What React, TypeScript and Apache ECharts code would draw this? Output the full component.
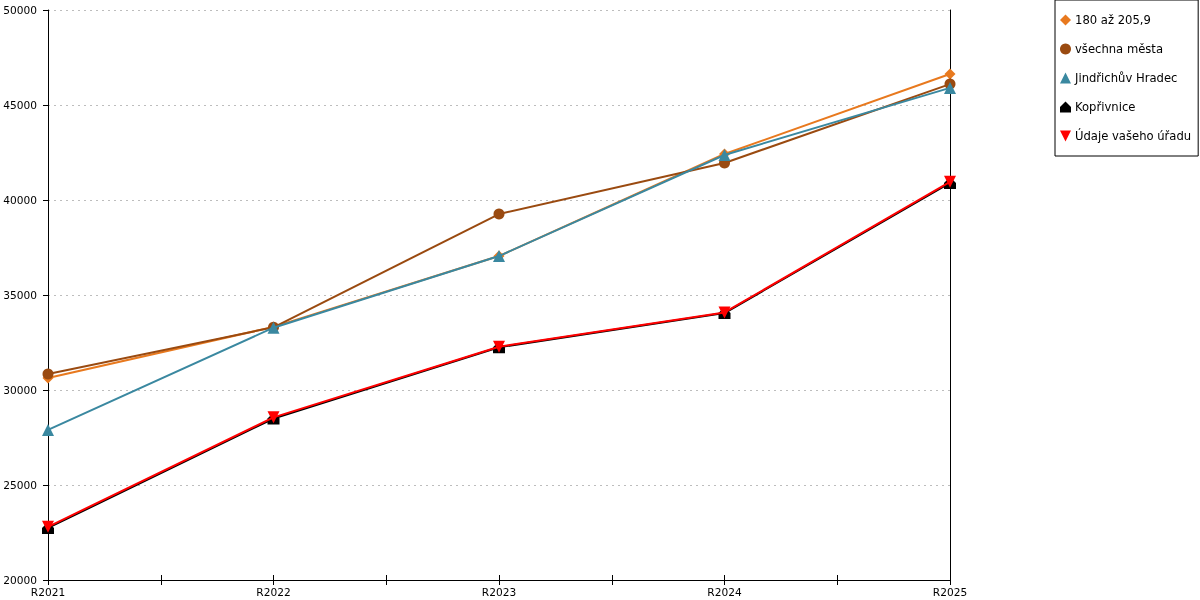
import React, { useEffect, useRef } from "react";
import * as echarts from "echarts";

const categories = ["R2021", "R2022", "R2023", "R2024", "R2025"];
const seriesNames = ["180 až 205,9", "všechna města", "Jindřichův Hradec", "Kopřivnice", "Údaje vašeho úřadu"];
const s180 = [30630, 33320, 37050, 42420, 46630];
const sAll = [30840, 33300, 39260, 41950, 46100];
const sJH = [27900, 33280, 37050, 42370, 45900];
const sKop = [22740, 28500, 32250, 34050, 40900];
const sUrad = [22800, 28560, 32280, 34080, 40960];
const yTicks = { min: 20000, max: 50000, interval: 5000 };

const colors = ["#E8791E", "#9A4A10", "#3A88A0", "#000000", "#FF0000"];
const symbols = [
  "diamond",
  "circle",
  "triangle",
  "path://M0,5 L5,0 L10,5 L10,10 L0,10 Z",
  "path://M0,0 L10,0 L5,10 Z",
];
const symbolSizes = [11, 11, 12, 12, 12];

const FONT = "DejaVu Sans";

export default function App() {
  const ref = useRef<HTMLDivElement>(null);
  useEffect(() => {
    if (!ref.current) return;
    const chart = echarts.init(ref.current, undefined, { renderer: "svg" });
    const all = [s180, sAll, sJH, sKop, sUrad];
    const order = [0, 1, 2, 3, 4];
    chart.setOption({
      animation: false,
      textStyle: { fontFamily: FONT },
      grid: { left: 48, right: 250, top: 10, bottom: 20 },
      legend: {
        orient: "vertical",
        left: 1055,
        top: 0,
        data: seriesNames.map((n, i) => ({ name: n, icon: symbols[i] })),
        itemWidth: 11,
        itemHeight: 11,
        itemGap: 17,
        padding: [14, 7, 14, 5],
        borderColor: "#000",
        borderWidth: 1,
        borderRadius: 0,
        textStyle: { fontFamily: FONT, fontSize: 11.6, color: "#000", padding: [0, 0, 0, -1] },
      },
      xAxis: [
        {
          type: "value",
          min: 0,
          max: categories.length - 1,
          interval: 0.5,
          axisLine: { lineStyle: { color: "#000", width: 1 } },
          axisTick: { show: true, length: 5, lineStyle: { color: "#000" } },
          splitLine: { show: false },
          axisLabel: {
            color: "#000",
            fontSize: 10.6,
            fontFamily: FONT,
            margin: 6,
            formatter: (v: number) => (Number.isInteger(v) ? categories[v] : ""),
          },
        },
        {
          type: "value",
          min: 0,
          max: categories.length - 1,
          interval: 0.5,
          position: "bottom",
          axisLine: { show: false },
          axisTick: { show: true, inside: true, length: 5, lineStyle: { color: "#000" } },
          splitLine: { show: false },
          axisLabel: { show: false },
        },
      ],
      yAxis: [
        {
          type: "value",
          ...yTicks,
          axisLine: { show: true, lineStyle: { color: "#000" } },
          axisTick: { show: true, length: 5, lineStyle: { color: "#000" } },
          axisLabel: {
            color: "#000",
            fontSize: 10.6,
            fontFamily: FONT,
            margin: 11,
            formatter: (v: number) => String(v),
          },
          splitLine: { show: true, lineStyle: { color: "#bdbdbd", type: [2, 4], width: 1 } },
        },
        {
          type: "value",
          ...yTicks,
          position: "right",
          axisLine: { show: true, onZero: false, lineStyle: { color: "#000" } },
          axisTick: { show: false },
          axisLabel: { show: false },
          splitLine: { show: false },
        },
      ],
      series: order.map((i) => ({
        name: seriesNames[i],
        type: "line",
        xAxisIndex: 0,
        yAxisIndex: i === 3 ? 1 : 0,
        data: all[i].map((v, k) => [k, v]),
        symbol: symbols[i],
        symbolSize: symbolSizes[i],
        showAllSymbol: true,
        itemStyle: { color: colors[i] },
        lineStyle: { color: colors[i], width: 2 },
        z: 2 + i,
      })),
    });
    return () => chart.dispose();
  }, []);
  return <div ref={ref} style={{ width: 1200, height: 600, position: "fixed", left: 0, top: 0 }} />;
}
